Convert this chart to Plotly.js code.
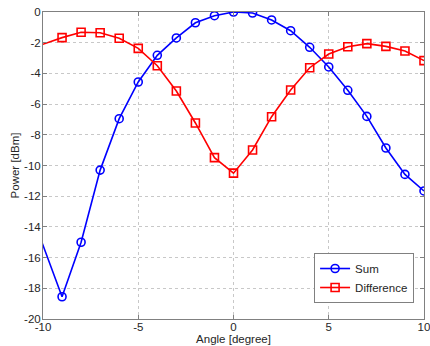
<!DOCTYPE html>
<html>
<head>
<meta charset="utf-8">
<script src="https://cdn.plot.ly/plotly-3.0.1.min.js"></script>
<style>html,body{margin:0;padding:0;background:#fff;}#chart{width:430px;height:346px;}</style>
</head>
<body>
<div id="chart"></div>
<script>
var angles = [-11,-9,-8,-7,-6,-5,-4,-3,-2,-1,0,1,2,3,4,5,6,7,8,9,10];
var sumPower = [-11.85,-18.55,-15.0,-10.3,-6.95,-4.56,-2.82,-1.69,-0.70,-0.24,0.0,-0.07,-0.52,-1.22,-2.30,-3.58,-5.10,-6.80,-8.86,-10.58,-11.66];
var diffPower = [-2.53,-1.67,-1.32,-1.35,-1.71,-2.37,-3.5,-5.15,-7.23,-9.49,-10.5,-8.99,-6.82,-5.08,-3.63,-2.74,-2.26,-2.06,-2.24,-2.54,-3.17];
var xTicks = [-10,-5,0,5,10];
var yTicks = [0,-2,-4,-6,-8,-10,-12,-14,-16,-18,-20];
var seriesNames = ['Sum','Difference'];

var font = {family:'Liberation Sans, Arial, sans-serif', size:11.5, color:'#262626'};
var traces = [
  {x: angles, y: sumPower, name: seriesNames[0], type:'scatter', mode:'lines+markers', cliponaxis:true,
   line:{color:'#0000ff', width:1.6}, marker:{symbol:'circle-open', size:8, color:'#0000ff', line:{width:1.6}}},
  {x: angles, y: diffPower, name: seriesNames[1], type:'scatter', mode:'lines+markers', cliponaxis:true,
   line:{color:'#ff0000', width:1.6}, marker:{symbol:'square-open', size:8, color:'#ff0000', line:{width:1.6}}}
];
var axisCommon = {showline:true, mirror:'ticks', linecolor:'#808080', linewidth:1, automargin:false,
  ticks:'inside', ticklen:4, tickcolor:'#808080', showgrid:true, gridcolor:'#c8c8c8', griddash:'dot', gridwidth:1,
  zeroline:false, tickfont:font, ticklabeloverflow:'allow'};
var layout = {
  width:430, height:346,
  margin:{l:43, r:6, t:12, b:27},
  paper_bgcolor:'#fff', plot_bgcolor:'#fff',
  font: font,
  showlegend:true,
  legend:{x:0.974, y:0.1335, xanchor:'right', yanchor:'middle', bgcolor:'#fff', bordercolor:'#808080', borderwidth:1,
    font:font, tracegroupgap:0, itemwidth:30},
  xaxis: Object.assign({}, axisCommon, {range:[-10,10], tickvals:xTicks, ticktext:xTicks.map(String),
    ticklabelstandoff:-3, title:{text:'Angle [degree]', font:font, standoff:2}}),
  yaxis: Object.assign({}, axisCommon, {range:[-20,0], tickvals:yTicks, ticktext:yTicks.map(String),
    ticklabelstandoff:-1, title:{text:'Power [dBm]', font:font, standoff:2}})
};
Plotly.newPlot('chart', traces, layout, {displayModeBar:false, staticPlot:true});
</script>
</body>
</html>
